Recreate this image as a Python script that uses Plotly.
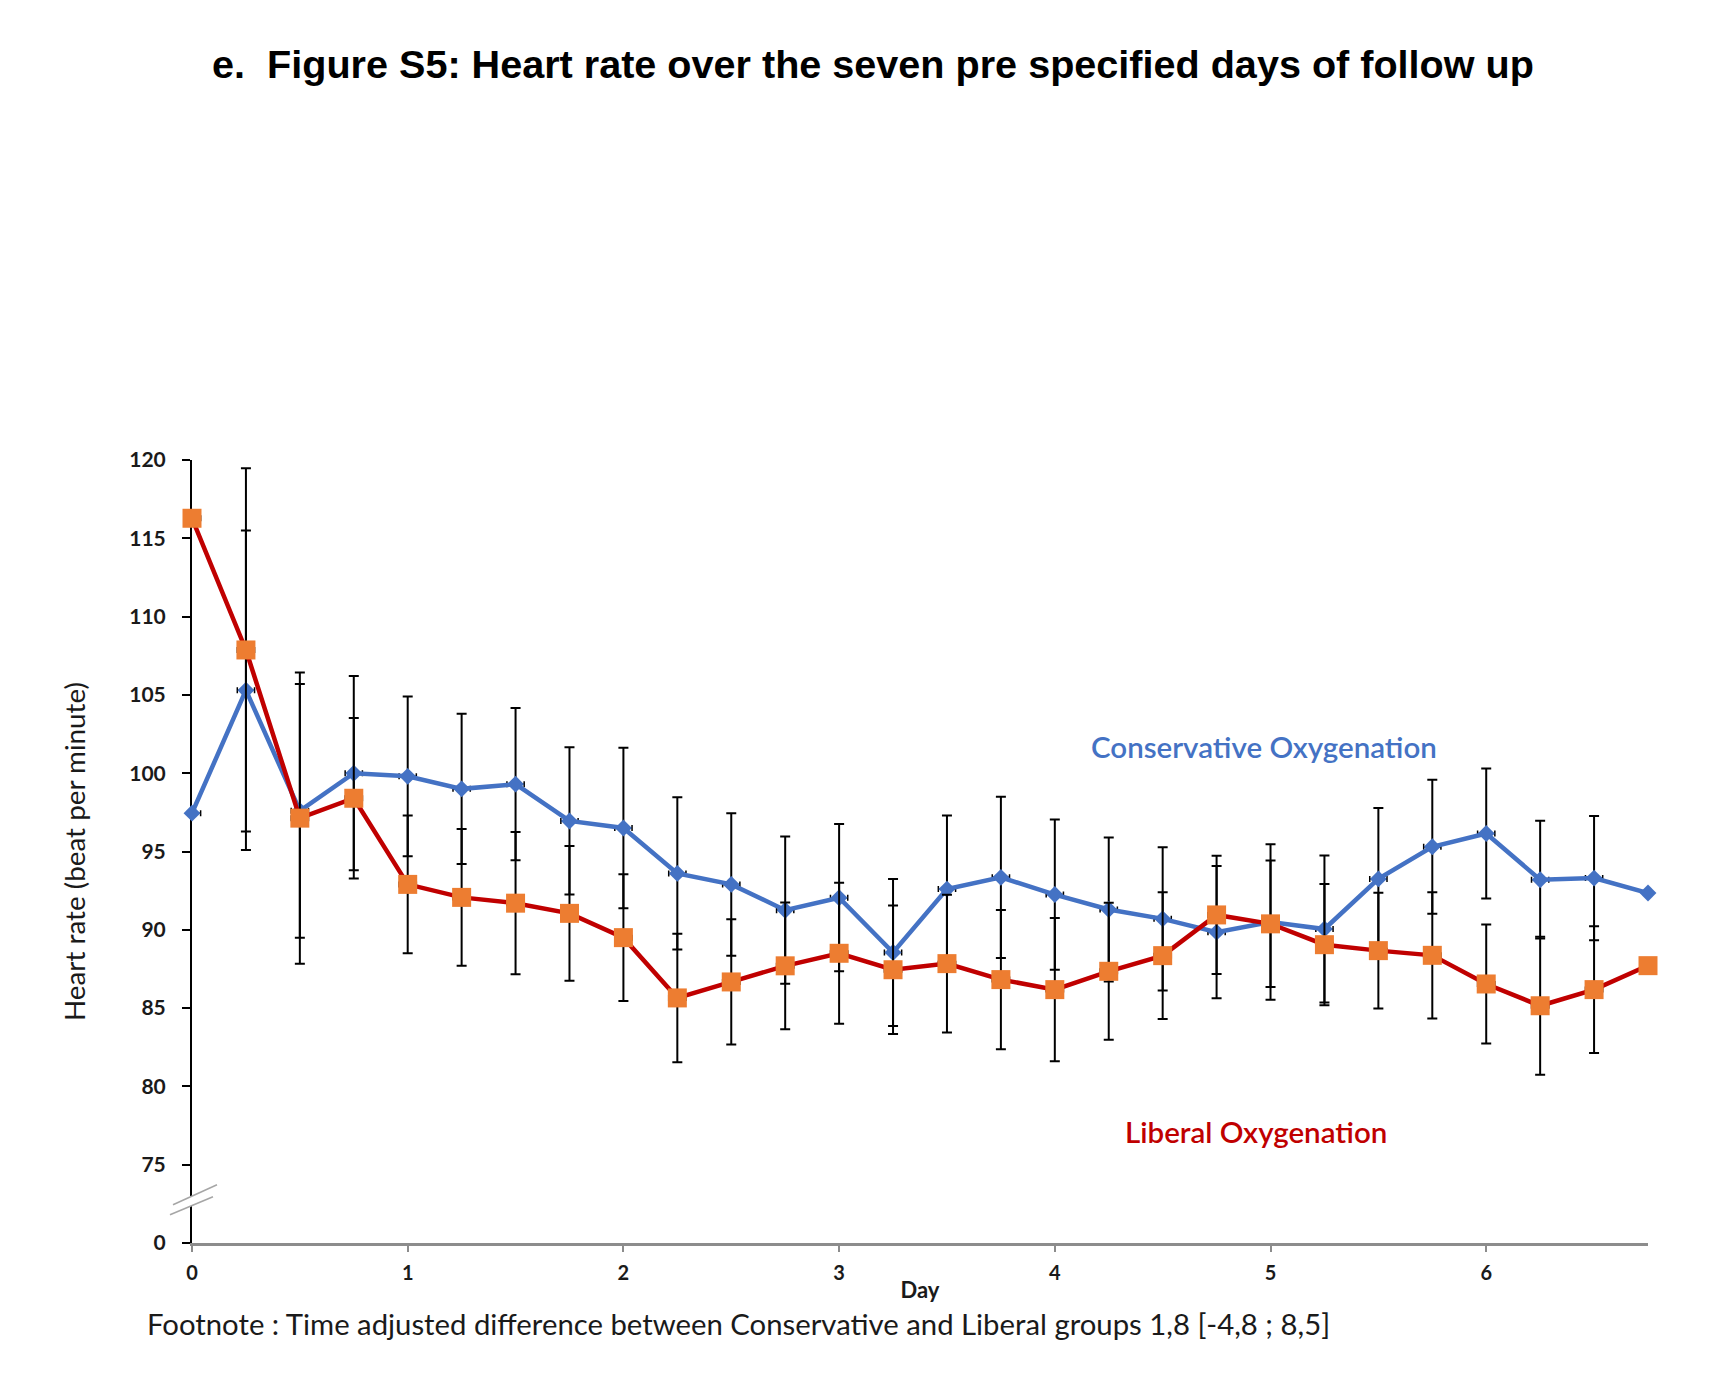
import plotly.graph_objects as go

# ---------------- data ----------------
days = [0, 0.25, 0.5, 0.75, 1, 1.25, 1.5, 1.75, 2, 2.25, 2.5, 2.75, 3, 3.25,
        3.5, 3.75, 4, 4.25, 4.5, 4.75, 5, 5.25, 5.5, 5.75, 6, 6.25, 6.5, 6.75]

conservative = [97.45, 105.3, 97.6, 100.0, 99.8, 99.0, 99.3, 96.95, 96.5, 93.6,
                92.9, 91.25, 92.05, 88.55, 92.6, 93.35, 92.25, 91.3, 90.7, 89.85,
                90.5, 90.05, 93.25, 95.3, 96.15, 93.2, 93.3, 92.35]
conservative_err = [None, 10.2, 8.1, 6.2, 5.1, 4.8, 4.86, 4.7, 5.13, 4.86,
                    4.55, 4.7, 4.7, 4.7, 4.7, 5.15, 4.8, 4.6, 4.57, 4.22,
                    4.97, 4.7, 4.53, 4.28, 4.15, 3.76, 3.97, None]

liberal = [116.28, 107.87, 97.13, 98.4, 92.9, 92.07, 91.7, 91.05, 89.5, 85.65,
           86.67, 87.7, 88.5, 87.45, 87.84, 86.82, 86.18, 87.35, 88.35, 90.95,
           90.38, 89.05, 88.67, 88.37, 86.54, 85.15, 86.18, 87.71]
liberal_err = [None, 11.6, 9.3, 5.13, 4.4, 4.36, 4.54, 4.3, 4.04, 4.1,
               4.0, 4.05, 4.5, 4.1, 4.4, 4.45, 4.57, 4.37, 4.05, 3.78,
               4.04, 3.87, 3.7, 4.03, 3.8, 4.4, 4.04, None]

x_ticks = [0, 1, 2, 3, 4, 5, 6]
y_tickvals = [70, 75, 80, 85, 90, 95, 100, 105, 110, 115, 120]
y_ticktext = ["0", "75", "80", "85", "90", "95", "100", "105", "110", "115", "120"]

title_text = "e.\u00a0\u00a0Figure S5: Heart rate over the seven pre specified days of follow up"
footnote_text = "Footnote : Time adjusted difference between Conservative and Liberal groups 1,8 [-4,8 ; 8,5]"

# ---------------- styling ----------------
BLUE = "#4472C4"
RED = "#C00000"
ORANGE = "#ED7D31"
TXT = "#1a1a1a"
XERR = 0.04

OFF = 8  # page body margin added by the html page
W, H = 1725 - OFF, 1373 - OFF
L, T = 192 - OFF, 460 - OFF
PR, PB = 1648.5 - OFF, 1243.3 - OFF  # plot right / bottom in figure px
R, B = W - PR, H - PB
pw, ph = PR - L, PB - T


def px(xp):  # page px -> paper x
    return (xp - OFF - L) / pw


def py(yp):  # page px -> paper y
    return (PB - (yp - OFF)) / ph


fig = go.Figure()

fig.add_trace(go.Scatter(
    x=days, y=conservative, mode="lines+markers", name="Conservative Oxygenation",
    line=dict(color=BLUE, width=4.5),
    marker=dict(symbol="diamond", size=13, color=BLUE),
    error_y=dict(type="data", array=conservative_err, color="black", thickness=2, width=5),
    error_x=dict(type="data", array=[XERR] * (len(days) - 1) + [None], color="black", thickness=1.5, width=3),
    cliponaxis=False, showlegend=False,
))

fig.add_trace(go.Scatter(
    x=days, y=liberal, mode="lines+markers", name="Liberal Oxygenation",
    line=dict(color=RED, width=4.5),
    marker=dict(symbol="square", size=19, color=ORANGE),
    error_y=dict(type="data", array=liberal_err, color="black", thickness=2, width=5),
    error_x=dict(type="data", array=[XERR] * (len(days) - 1) + [None], color="black", thickness=1.5, width=3),
    cliponaxis=False, showlegend=False,
))

fig.update_layout(
    width=W, height=H,
    margin=dict(l=L, r=R, t=T, b=B),
    paper_bgcolor="white", plot_bgcolor="white",
    font=dict(family="Lato", color=TXT),
    title=dict(text="<b>" + title_text + "</b>", xref="container", yref="container",
               x=(873 - OFF) / W, y=1 - (64 - OFF) / H, xanchor="center", yanchor="middle",
               font=dict(family="Liberation Sans", size=39.6, color="black")),
    xaxis=dict(
        range=[0, 6.75], tickvals=x_ticks, ticktext=[str(t) for t in x_ticks],
        showgrid=False, zeroline=False,
        showline=True, linecolor="#8c8c8c", linewidth=2.5,
        ticks="outside", ticklen=6, tickwidth=1.5, tickcolor="#8c8c8c",
        tickfont=dict(family="Lato", size=20, color=TXT, weight="bold"),
        ticklabelstandoff=4,
        title=dict(text="<b>Day</b>", font=dict(family="Lato", size=22, color=TXT), standoff=0),
        layer="below traces",
    ),
    yaxis=dict(
        range=[70, 120], tickvals=y_tickvals, ticktext=y_ticktext,
        showgrid=False, zeroline=False,
        showline=True, linecolor="black", linewidth=2,
        ticks="outside", ticklen=8, tickwidth=2, tickcolor="black",
        tickfont=dict(family="Lato", size=21, color=TXT, weight="bold"),
        ticklabelstandoff=12,
        title=dict(text="Heart rate (beat per minute)", font=dict(family="Lato", size=27.8, color=TXT), standoff=36),
        layer="below traces",
    ),
)

# series labels
fig.add_annotation(x=4.972, y=101.7, xref="x", yref="y", text="Conservative Oxygenation",
                   showarrow=False, font=dict(family="Lato", size=29.5, color=BLUE, weight=600))
fig.add_annotation(x=4.931, y=77.13, xref="x", yref="y", text="Liberal Oxygenation",
                   showarrow=False, font=dict(family="Lato", size=29.5, color=RED, weight=600))

# footnote
fig.add_annotation(x=px(145), y=py(1324), xref="paper", yref="paper",
                   text=footnote_text, showarrow=False, xanchor="left", yanchor="middle",
                   font=dict(family="Lato", size=29.3, color=TXT))

# axis break marks on the y axis
brk = [(173, 1205), (217, 1185), (213, 1197), (170, 1215)]
path = "M {},{} L {},{} L {},{} L {},{} Z".format(*(v for p in brk for v in (px(p[0]), py(p[1]))))
fig.add_shape(type="path", path=path, xref="paper", yref="paper",
              fillcolor="white", line=dict(width=0), layer="above")
fig.add_shape(type="line", xref="paper", yref="paper", x0=px(173), y0=py(1205), x1=px(217), y1=py(1185),
              line=dict(color="#a6a6a6", width=1.5))
fig.add_shape(type="line", xref="paper", yref="paper", x0=px(170), y0=py(1215), x1=px(213), y1=py(1197),
              line=dict(color="#a6a6a6", width=1.5))

fig.write_html("out.html")
